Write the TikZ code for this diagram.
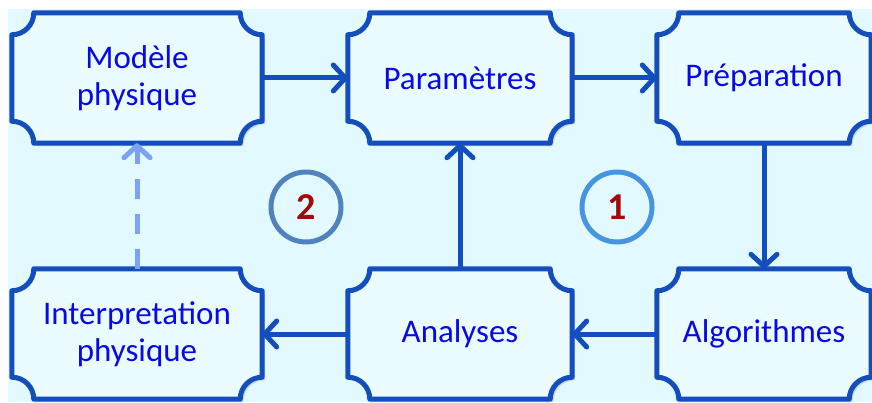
\documentclass[tikz,border=0pt]{standalone}
\usepackage{fontspec}
\setmainfont{Carlito}
\usetikzlibrary{arrows.meta,positioning}
\definecolor{fond}{RGB}{226,250,255}
\definecolor{fondboite}{RGB}{234,252,255}
\definecolor{trait}{RGB}{20,78,188}
\definecolor{texte}{RGB}{8,8,232}
\definecolor{tirets}{RGB}{122,162,246}
\definecolor{cercleA}{RGB}{80,130,190}
\definecolor{cercleB}{RGB}{70,148,226}
\definecolor{chiffre}{RGB}{160,10,10}
\definecolor{ombre}{RGB}{160,180,200}
\pgfdeclarelayer{back}
\pgfdeclarelayer{plaques}
\pgfsetlayers{back,plaques,main}
\newcommand{\notch}{22pt}

\begin{document}
\begin{tikzpicture}[x=1pt,y=1pt,
    every node/.append style={font=\fontsize{33}{37}\selectfont, text=texte, align=center},
    etape/.style={minimum height=130pt, inner sep=0pt, minimum width=#1},
    plaque/.style={draw=trait, line width=5pt, fill=fondboite, line join=round},
    ombreplaque/.style={fill=ombre, opacity=.45, transform canvas={shift={(3pt,-3pt)}}},
    fleche/.style={draw=trait, line width=5pt, -{Straight Barb[length=12pt,width=26pt,round]}},
    retour/.style={fleche, draw=tirets, dash pattern=on 20pt off 15pt},
    rond/.style={circle, draw=#1, line width=5pt, minimum size=70pt, inner sep=0pt,
                 text=chiffre, font=\fontsize{38}{40}\selectfont\bfseries}]
  \useasboundingbox (0,0) rectangle (872,402);
  \begin{pgfonlayer}{back}
    \fill[fond] (8,0) rectangle (872,393);
  \end{pgfonlayer}
  % top row
  \node[etape=250pt] (modele)   at (137,324) {Modèle\\physique};
  \node[etape=224pt] (param)    at (460,324) {Paramètres};
  \node[etape=214pt] (prep)     at (764,324) {Préparation};
  % bottom row
  \node[etape=250pt] (interp)   at (137,68)  {Interpretation\\physique};
  \node[etape=224pt] (analyses) at (460,68)  {Analyses};
  \node[etape=214pt] (algo)     at (764,68)  {Algorithmes};
  % loops
  \node[rond=cercleA] (boucleB) at (306,195) {2};
  \node[rond=cercleB] (boucleA) at (617,195) {1};
  \begin{pgfonlayer}{plaques}
    \foreach \n in {modele,param,prep,interp,analyses,algo}{
      \foreach \s in {ombreplaque,plaque}{
        \path[\s] ([xshift=\notch]\n.north west) -- ([xshift=-\notch]\n.north east)
          arc[start angle=180,end angle=270,radius=\notch]
          -- ([yshift=\notch]\n.south east)
          arc[start angle=90,end angle=180,radius=\notch]
          -- ([xshift=\notch]\n.south west)
          arc[start angle=0,end angle=90,radius=\notch]
          -- ([yshift=-\notch]\n.north west)
          arc[start angle=-90,end angle=0,radius=\notch]
          -- cycle;
      }
    }
  \end{pgfonlayer}
  \draw[fleche] (modele) -- (param);
  \draw[fleche] (param) -- (prep);
  \draw[fleche] (prep) -- (algo);
  \draw[fleche] (algo) -- (analyses);
  \draw[fleche] (analyses) -- (interp);
  \draw[fleche] (analyses) -- (param);
  \draw[retour] (interp) -- (modele);
\end{tikzpicture}
\end{document}
